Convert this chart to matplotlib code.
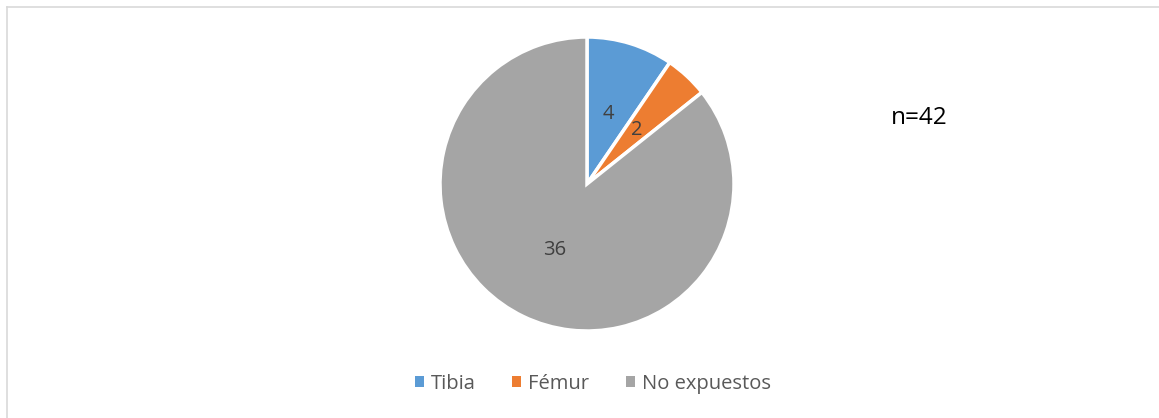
import matplotlib
matplotlib.use("Agg")
import matplotlib.pyplot as plt
from matplotlib.lines import Line2D
from matplotlib.patches import Patch

categories = ["Tibia", "Fémur", "No expuestos"]
values = [4, 2, 36]
colors = ["#5B9BD5", "#ED7D31", "#A5A5A5"]
note = "n=42"

plt.rcParams['font.family'] = ['Open Sans', 'DejaVu Sans']

W, H = 1159, 418
fig = plt.figure(figsize=(W / 100, H / 100), dpi=100)

# border (top and left visible)
fig.add_artist(Line2D([6.5 / W, 1.0], [1 - 7 / H, 1 - 7 / H], color="#D9D9D9", lw=1.2))
fig.add_artist(Line2D([6.5 / W, 6.5 / W], [0, 1 - 7 / H], color="#D9D9D9", lw=1.2))

cx, cy, R = 587, 184, 147
ax = fig.add_axes([(cx - R) / W, (H - cy - R) / H, 2 * R / W, 2 * R / H])
wedges, texts, autotexts = ax.pie(
    values, colors=colors, startangle=90, counterclock=False,
    autopct=lambda p: f"{round(p * sum(values) / 100):d}", pctdistance=0.5,
    wedgeprops=dict(edgecolor="white", linewidth=2.5),
    textprops=dict(color="#404040", fontsize=14.5))
ax.set_xlim(-1, 1)
ax.set_ylim(-1, 1)
ax.set_aspect("equal")
ax.axis("off")

fig.text(919 / W, 1 - 118 / H, note, fontsize=17.5, color="black", ha="center", va="center")

handles = [Patch(facecolor=c, edgecolor="none") for c in colors]
fig.legend(handles, categories, loc="center", bbox_to_anchor=(593 / W, 1 - 384 / H),
           ncol=3, frameon=False, fontsize=14.5, labelcolor="#595959",
           handlelength=0.45, handleheight=0.45, handletextpad=0.35, columnspacing=1.8)

fig.savefig("out.png", dpi=100, facecolor="white")
